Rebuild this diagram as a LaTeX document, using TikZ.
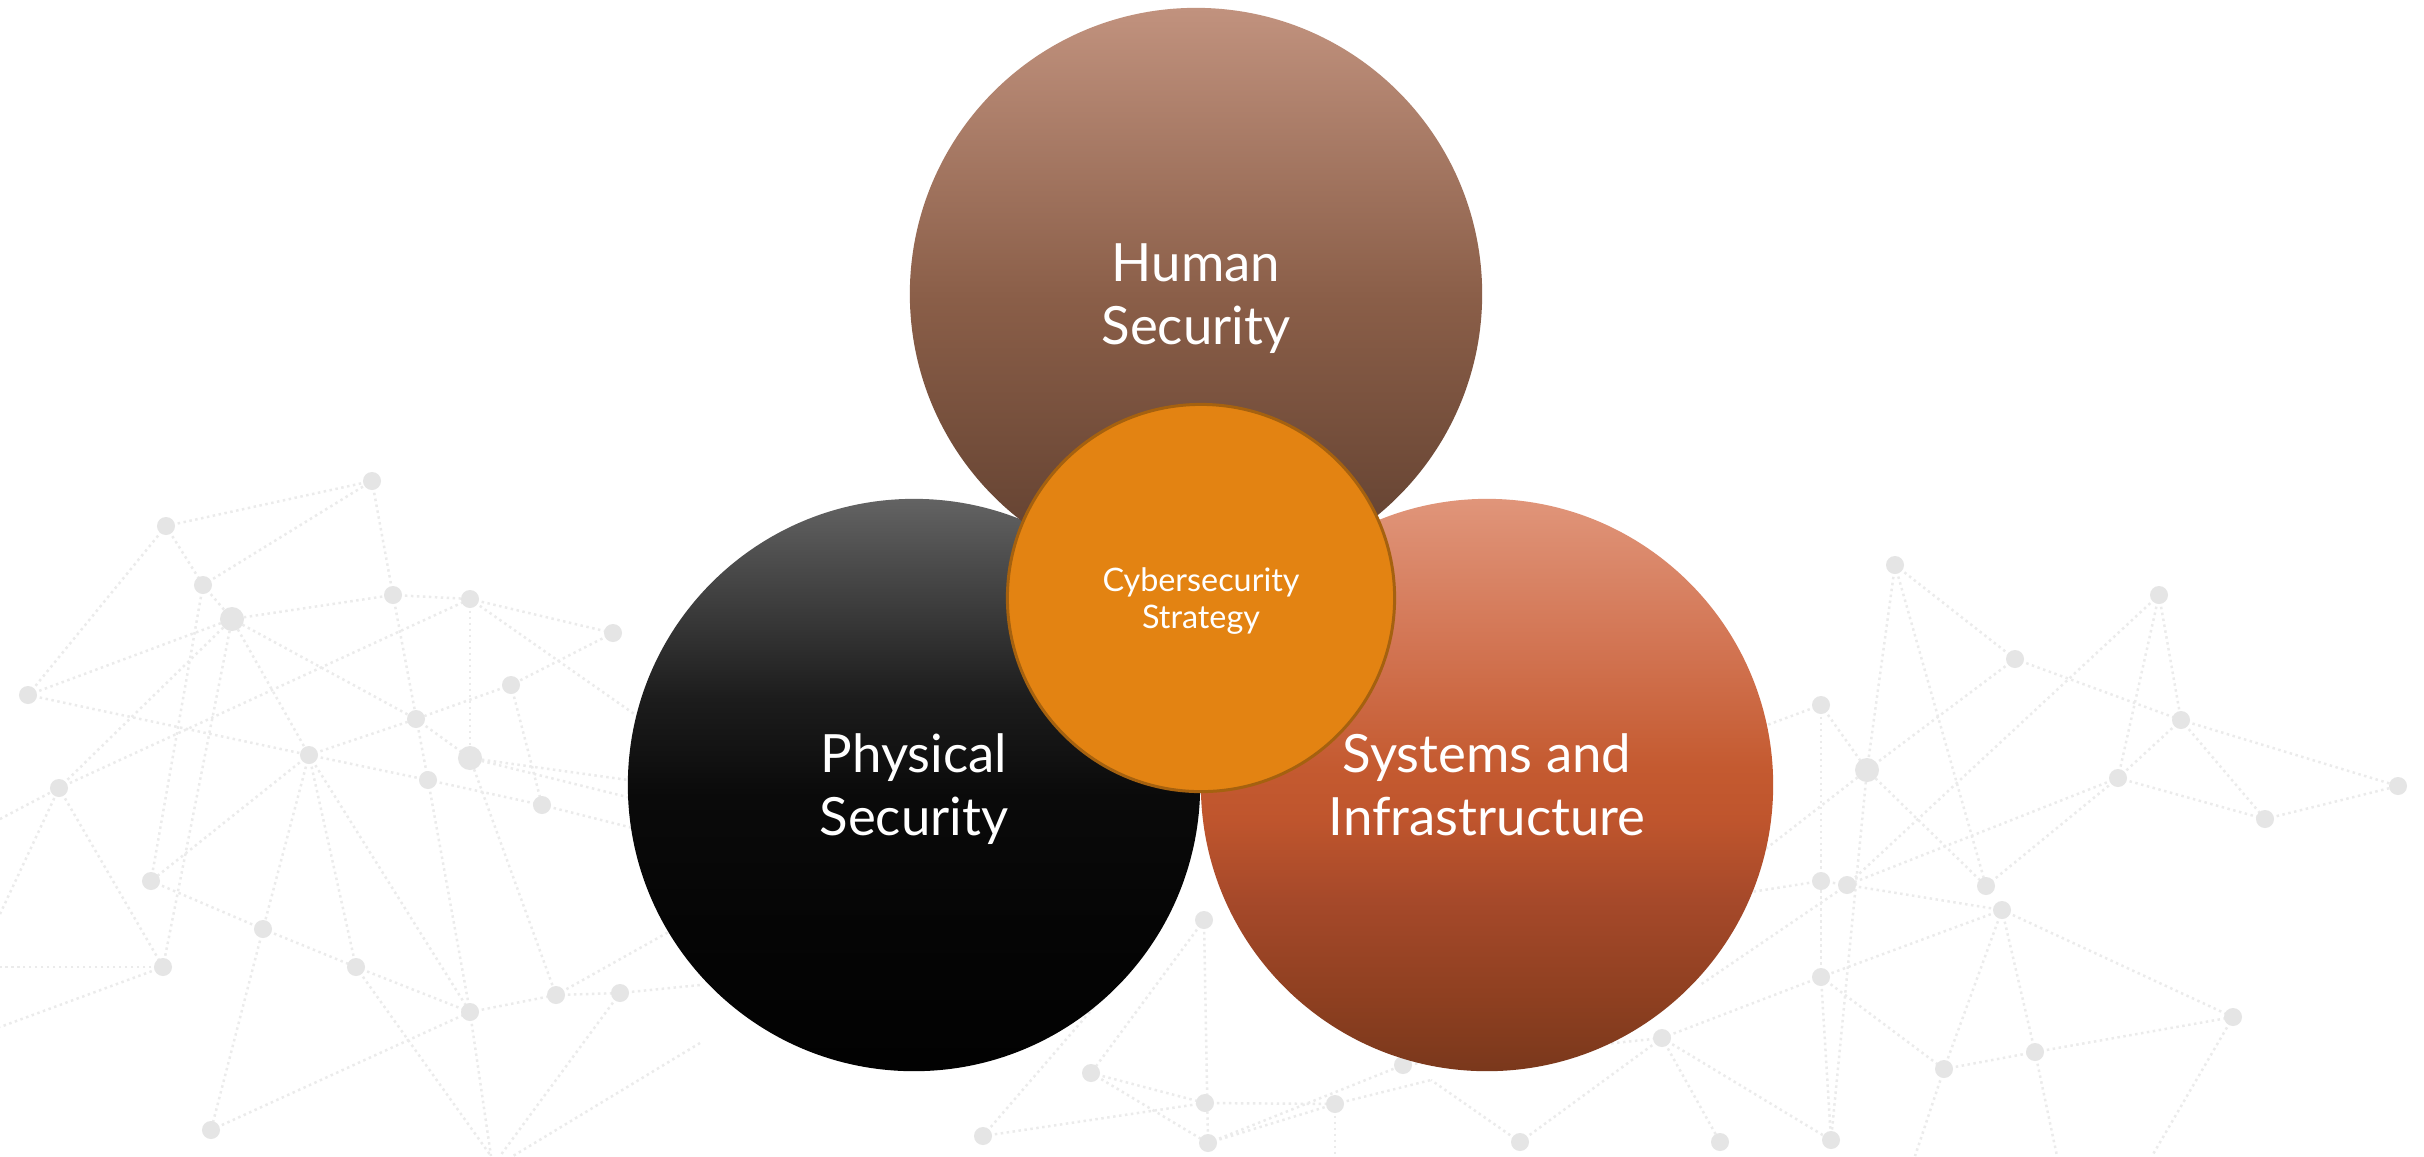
\documentclass[tikz,border=0pt]{standalone}
\usepackage{fontspec}
\setmainfont{Lato}

\definecolor{strategy}{HTML}{E38312}
\definecolor{strategyline}{HTML}{A5610F}

\pgfdeclareverticalshading{humanshade}{100bp}{%
	color(0bp)=(rgb,255:red,94;green,62;blue,46); color(25bp)=(rgb,255:red,94;green,62;blue,46);
	color(49.5bp)=(rgb,255:red,138;green,94;blue,72);
	color(75bp)=(rgb,255:red,193;green,146;blue,126); color(100bp)=(rgb,255:red,193;green,146;blue,126)}
\pgfdeclareverticalshading{physshade}{100bp}{%
	color(0bp)=(rgb,255:red,2;green,2;blue,2); color(25bp)=(rgb,255:red,2;green,2;blue,2);
	color(37.5bp)=(rgb,255:red,5;green,5;blue,5);
	color(49bp)=(rgb,255:red,10;green,10;blue,10);
	color(57.5bp)=(rgb,255:red,28;green,28;blue,28);
	color(70bp)=(rgb,255:red,78;green,78;blue,78);
	color(75bp)=(rgb,255:red,99;green,99;blue,99); color(100bp)=(rgb,255:red,99;green,99;blue,99)}
\pgfdeclareverticalshading{sysshade}{100bp}{%
	color(0bp)=(rgb,255:red,122;green,56;blue,28); color(25bp)=(rgb,255:red,122;green,56;blue,28);
	color(31bp)=(rgb,255:red,141;green,63;blue,32);
	color(40bp)=(rgb,255:red,166;green,73;blue,42);
	color(47bp)=(rgb,255:red,191;green,85;blue,45);
	color(51.5bp)=(rgb,255:red,196;green,90;blue,48);
	color(62bp)=(rgb,255:red,210;green,116;blue,82);
	color(75bp)=(rgb,255:red,224;green,149;blue,122); color(100bp)=(rgb,255:red,224;green,149;blue,122)}

\begin{document}
\begin{tikzpicture}[x=0.01cm,y=-0.01cm,
	netline/.style={draw=black!8, line width=0.7pt, densely dotted},
	netdot/.style={fill=black!10},
	bigcircle/.style={circle, minimum size=5.72cm, inner sep=0pt, text=white, align=center,
		text depth=0pt, font=\fontsize{15}{17.9}\selectfont},
	smallcircle/.style={circle, minimum size=3.87cm, inner sep=0pt, text=white, align=center,
		text depth=0pt, font=\fontsize{9.2}{10.6}\selectfont}]
	\useasboundingbox (0,0) rectangle (2424,1156);
	\fill[white] (0,0) rectangle (2424,1156);
	
	% network in the background
	\foreach \n/\x/\y in {l1/372/481, l2/166/526, l3/203/585, l4/232/619, l5/393/595,
		l6/470/599, l7/613/633, l8/511/685, l9/416/719, l10/28/695, l11/309/755,
		l12/470/758, l13/428/780, l14/542/805, l15/59/788, l16/151/881, l17/263/929,
		l18/163/967, l19/356/967, l20/470/1012, l21/556/995, l22/620/993, l23/211/1130,
		m1/1204/920, m2/1091/1073, m3/1205/1103, m4/1335/1104, m5/983/1136,
		m6/1208/1143, m7/1403/1065, m8/1520/1142,
		r1/1895/565, r2/2159/595, r3/2015/659, r4/2181/720, r5/1821/705, r6/1867/770,
		r7/2118/778, r8/2265/819, r9/2398/786, r10/1821/881, r11/1847/885,
		r12/1986/886, r13/2002/910, r14/1821/977, r15/1662/1038, r16/2233/1017,
		r17/2035/1052, r18/1944/1069, r19/1720/1142, r20/1831/1140}
		\coordinate (\n) at (\x,\y);
	\foreach \n/\x/\y in {e1/0/819, e2/0/914, e3/0/967, e4/0/1027, e5/513/1156,
		e6/500/1156, e7/491/1156, e8/1335/1156, e9/2057/1156, e10/2152/1156,
		e11/1915/1156, h1/700/760, h2/700/790, h3/700/815, h4/700/845, h5/700/985,
		h6/690/920, h7/700/1043, h8/1100/1000, h9/1431/1080, h10/1700/750,
		h11/1700/900, h12/1700/985}
		\coordinate (\n) at (\x,\y);
	
	\foreach \a/\b in {l2/l1, l1/l5, l3/l1, l2/l3, l3/l4, l10/l2, l10/l4, l10/l11,
		e1/l15, e2/l15, l15/l4, l15/l6, l15/l18, l4/l5, l5/l6, l4/l9, l9/l12, l4/l11,
		l4/l18, l3/l16, l6/l12, l6/l7, l6/h1, l7/l8, l8/l9, l8/l14, l11/l9, l11/l13,
		l11/l16, l11/l17, l11/l19, l11/l20, l12/h2, l12/h3, l12/l21, l13/l14, l14/h4,
		l13/l20, l5/l13, l16/l17, l17/l19, l19/l20, l17/l23, l18/e3, l18/e4, l20/l21,
		l21/l22, l22/h5, l21/h6, l23/l20, l19/e7, l20/e7, l22/e6, h7/e5,
		m1/m6, m1/m2, m2/m6, m2/m3, m3/m4, m5/m3, m5/h8, m6/m4, m6/m7, m4/e8,
		m4/h9, m8/h9, m7/r15, m8/r15,
		r1/r3, r1/r6, r1/r12, r2/r7, r2/r4, r2/r11, r3/r4, r3/r6, r4/r9, r4/r8, r4/r7,
		r8/r9, r7/r8, r7/r11, r7/r12, r5/r6, r5/r14, r5/h10, r6/r12, r6/r20, r6/h11,
		r11/r13, r10/r11, r10/h11, r11/h12, r13/r16, r13/r18, r13/r17, r13/r14,
		r14/r15, r14/r18, r14/r20, r17/r16, r18/r17, r17/e9, r15/r20, r15/r19,
		r16/e10, r18/e11}
		\draw[netline] (\a) -- (\b);
	
	\foreach \n in {l1,l2,l3,l5,l6,l7,l8,l9,l10,l11,l13,l14,l15,l16,l17,l18,l19,
		l20,l21,l22,l23,m1,m2,m3,m4,m5,m6,m7,m8,r1,r2,r3,r4,r5,r7,r8,r9,r10,r11,
		r12,r13,r14,r15,r16,r17,r18,r19,r20}
		\fill[netdot] (\n) circle (0.09cm);
	\foreach \n in {l4,l12,r6}
		\fill[netdot] (\n) circle (0.12cm);
	
	% the three areas
	\node[bigcircle, shading=physshade] (physical) at (914,785) {Physical\\Security};
	\node[bigcircle, shading=sysshade] (systems) at (1487,785) {Systems and\\Infrastructure};
	\node[bigcircle, shading=humanshade] (human) at (1196,294) {Human\\Security};
	
	% strategy in the middle
	\node[smallcircle, fill=strategy, draw=strategyline, line width=0.85pt]
		(strategy) at (1201,598) {Cybersecurity\\Strategy};
\end{tikzpicture}
\end{document}
